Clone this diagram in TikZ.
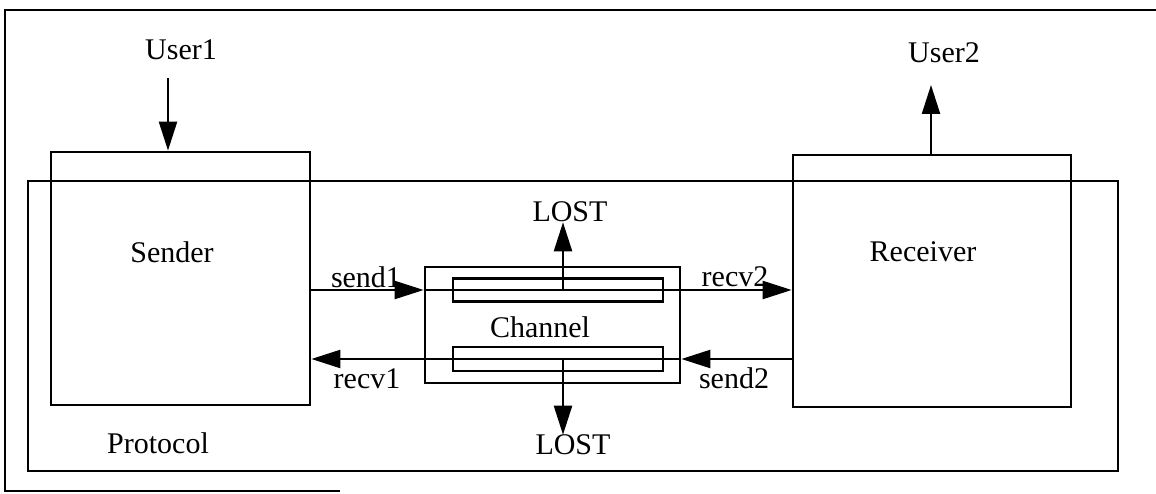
\documentclass[tikz,border=0pt]{standalone}
\usepackage{fontspec}
\setmainfont{Liberation Serif}
\usetikzlibrary{arrows.meta,calc}
\begin{document}
\begin{tikzpicture}[x=1pt,y=-1pt,
  box/.style={draw,line width=2.7pt,rectangle,inner sep=0pt},
  lbl/.style={inner sep=0pt,font=\fontsize{30}{33}\selectfont},
  arr/.style={line width=2.3pt,-{Triangle[length=29pt,width=18pt]}}]
\useasboundingbox (0,0) rectangle (1156,494);
% outer frame (partly visible)
\draw[line width=2.7pt] (1160,10) -- (5,10) -- (5,491) -- (340,491);
% boxes
\node[box,minimum width=1090pt,minimum height=290pt] (protocol) at (573,326) {};
\node[box,minimum width=259pt,minimum height=253pt] (sender) at (180.5,278.5) {};
\node[box,minimum width=278pt,minimum height=252pt] (receiver) at (932,281) {};
\node[box,minimum width=255pt,minimum height=116pt] (channel) at (552.5,325) {};
\node[box,minimum width=210pt,minimum height=23pt] (tin) at (558,290) {};
\node[box,minimum width=210pt,minimum height=24pt] (bin) at (558,359) {};
% labels
\node[lbl] (user1) at (181,50) {User1};
\node[lbl] (user2) at (944,53) {User2};
\node[lbl] (sendertxt) at (172,252) {Sender};
\node[lbl] (receivertxt) at (923,252) {Receiver};
\node[lbl] (channeltxt) at (540,327) {Channel};
\node[lbl] (protocoltxt) at (158,443) {Protocol};
\node[lbl] (send1) at (366,277) {send1};
\node[lbl] (recv1) at (367,379) {recv1};
\node[lbl] (recv2) at (735,277) {recv2};
\node[lbl] (send2) at (734,378) {send2};
\node[lbl] (lost1) at (570,212) {LOST};
\node[lbl] (lost2) at (573,445) {LOST};
% user arrows
\coordinate (u1) at (168,78);
\coordinate (u2) at (931,85);
\draw[arr] (u1) -- (u1 |- sender.north);
\draw[arr] (u2 |- receiver.north) -- (u2);
% channel connectors
\draw[arr] (sender.east |- tin.center) -- (channel.west |- tin.center);
\draw[arr] (channel.west |- tin.center) -- (receiver.west |- tin.center);
\draw[arr] (receiver.west |- bin.center) -- (channel.east |- bin.center);
\draw[arr] (channel.east |- bin.center) -- (sender.east |- bin.center);
\coordinate (lt) at (563,290);
\coordinate (lb) at (563,359);
\draw[arr] (lt) -- (lt |- lost1.south);
\draw[arr] (lb) -- (lb |- lost2.north);
\end{tikzpicture}
\end{document}
